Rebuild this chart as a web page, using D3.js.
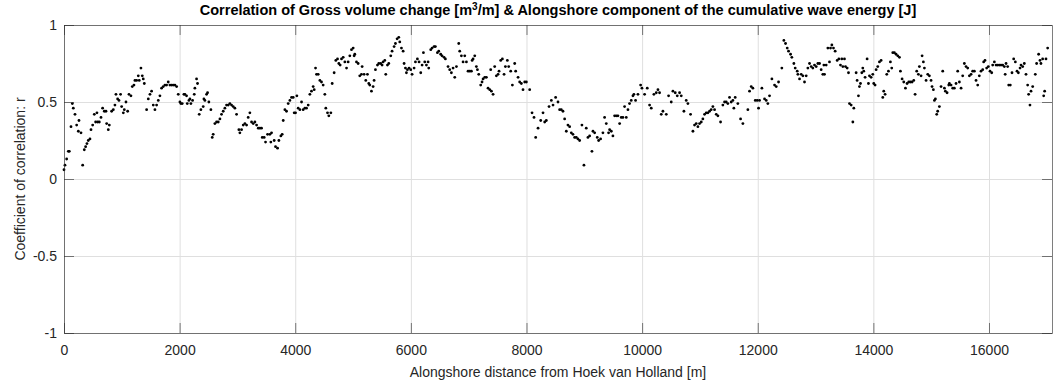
<!DOCTYPE html>
<html>
<head>
<meta charset="utf-8">
<script src="https://cdn.jsdelivr.net/npm/d3@7"></script>
<style>
  html, body { margin: 0; padding: 0; background: #fff; overflow: hidden; }
  text { font-family: "Liberation Sans", Arial, Helvetica, sans-serif; fill: #262626; }
</style>
</head>
<body>
<div id="chart"></div>
<script>
// alongshore distance [m] of each transect
const distance = [
  0, 17, 46, 75, 92, 121, 144, 161, 190, 219, 248, 259, 294, 323, 351, 374, 397, 420, 449, 467,
  496, 524, 547, 570, 582, 611, 640, 668, 697, 726, 738, 766, 784, 824, 853, 881, 899, 928, 951, 979,
  997, 1026, 1043, 1072, 1101, 1124, 1158, 1181, 1210, 1227, 1256, 1285, 1302, 1331, 1354, 1371, 1389, 1429, 1458, 1487,
  1515, 1544,
  1573, 1602, 1631, 1659, 1688, 1717, 1746, 1775, 1803, 1832, 1861, 1890, 1919, 1948, 1976, 2005, 2022, 2045, 2074, 2092,
  2120, 2132, 2161, 2178, 2195, 2224, 2253, 2264, 2293, 2310, 2339, 2368, 2408, 2420, 2437, 2466, 2483, 2506, 2541, 2564,
  2581, 2610, 2639, 2668, 2697, 2725, 2754, 2783, 2812, 2841, 2869, 2898, 2927, 2956, 2985, 3025, 3042, 3071, 3100, 3129,
  3158, 3186, 3215, 3244, 3273,
  3302, 3331, 3360, 3388, 3417, 3429, 3463, 3486, 3521, 3561, 3578, 3590, 3636, 3659, 3694, 3717, 3751, 3774, 3792, 3821,
  3849, 3878, 3907, 3936, 3965, 3982, 4005, 4028, 4051, 4080, 4109, 4137, 4166, 4195, 4224, 4253, 4281, 4310, 4328, 4351,
  4368, 4397, 4426, 4454, 4483, 4512, 4529, 4558, 4581, 4616, 4639, 4673, 4702, 4731, 4754, 4777, 4800, 4829, 4858, 4887,
  4915, 4944, 4973, 5002, 5019,
  5030, 5059, 5088, 5116, 5145, 5157, 5191, 5220, 5249, 5272, 5289, 5318, 5347, 5364, 5387, 5422, 5445, 5479, 5502, 5520,
  5549, 5566, 5595, 5618, 5652, 5675, 5710, 5733, 5762, 5791, 5808, 5837, 5866, 5883, 5906, 5923, 5940, 5969, 5998, 6021,
  6056, 6079, 6113, 6142, 6171, 6194, 6217, 6240, 6269, 6298, 6309, 6344, 6367, 6401, 6424, 6459, 6482, 6516, 6539, 6574,
  6597, 6643, 6672, 6701, 6730,
  6759, 6788, 6828, 6845, 6874, 6903, 6932, 6961, 6989, 7018, 7047, 7060, 7076, 7105, 7133, 7151, 7174, 7208, 7231, 7249,
  7278, 7306, 7335, 7364, 7381, 7393, 7422, 7450, 7479, 7508, 7525, 7554, 7583, 7612, 7635, 7669, 7692, 7727, 7756, 7796,
  7813, 7854, 7882, 7911, 7940, 7969, 7998, 8055, 8096, 8130, 8159, 8200, 8246, 8286, 8315, 8343, 8390, 8430, 8459,
  8504, 8545, 8573, 8602, 8631, 8660, 8689, 8717, 8746, 8775, 8804, 8833, 8862, 8890, 8919, 8959, 8994, 9034, 9063, 9092,
  9132, 9150, 9179, 9224, 9248, 9282, 9322, 9351, 9380, 9420, 9438, 9467, 9495, 9524, 9553, 9582, 9611, 9639, 9668, 9697,
  9726, 9755, 9783, 9812, 9841, 9858, 9887, 9928, 9974, 9997, 10043, 10089, 10129, 10158, 10204,
  10245, 10274, 10302, 10331, 10360, 10418, 10458, 10504, 10533, 10573, 10608, 10648, 10677, 10723, 10763, 10792, 10838, 10879, 10907, 10936,
  10965, 10994, 11023, 11051, 11080, 11109, 11138, 11167, 11195, 11224, 11253, 11282, 11311, 11357, 11397, 11426, 11455, 11483, 11512, 11541,
  11570, 11587, 11610, 11656, 11703, 11743, 11829, 11858, 11887, 11916,
  11957, 11991, 12014, 12031, 12072, 12118, 12147, 12175, 12204, 12245, 12291, 12320, 12360, 12417, 12452, 12481, 12510, 12533, 12568, 12590,
  12625, 12648, 12683, 12694, 12723, 12752, 12781, 12809, 12838, 12867, 12896, 12925, 12953, 12982, 13011, 13040, 13069, 13097, 13126, 13144,
  13155, 13184, 13213, 13241, 13259, 13282, 13310, 13339, 13374, 13403, 13431, 13454, 13472, 13500, 13518, 13547, 13570, 13587, 13616, 13645,
  13662,
  13702, 13719, 13742, 13759, 13777, 13800, 13817, 13834, 13857, 13892, 13915, 13932, 13961, 13990, 14007, 14030, 14048, 14076, 14105, 14134,
  14163, 14180, 14203, 14232, 14261, 14295, 14318, 14336, 14364, 14393, 14422, 14451, 14468, 14497, 14526, 14555, 14583, 14612, 14641, 14670,
  14699, 14722, 14750, 14779, 14796, 14825, 14843, 14865, 14883, 14912, 14941, 14969, 14998, 15015, 15038, 15056, 15073, 15096, 15113, 15142,
  15171, 15200, 15229, 15246, 15275, 15304,
  15315, 15344, 15373, 15401, 15430, 15459, 15488, 15517, 15545, 15574, 15603, 15632, 15661, 15690, 15718, 15747, 15776, 15805, 15833, 15862,
  15891, 15908, 15931, 15960, 15989, 16018, 16047, 16064, 16093, 16122, 16150, 16179, 16208, 16237, 16266, 16280, 16295, 16323, 16341, 16369,
  16398, 16427, 16456, 16485, 16508, 16537, 16554, 16583, 16611, 16640, 16669, 16686, 16709, 16727, 16756, 16801, 16824, 16859, 16882, 16899,
  16928, 16946, 16963, 16986, 17015
];

// correlation coefficient r at each transect
const rValues = [
  .06, .09, .13, .18, .18, .34, .49, .46, .42, .35, .31, .38, .30, .09, .19, .21, .23, .25, .26, .32,
  .35, .42, .37, .43, .37, .37, .40, .46, .44, .44, .36, .32, .35, .44, .45, .48, .55, .52, .51, .55,
  .47, .43, .45, .50, .44, .55, .54, .60, .61, .64, .64, .67, .64, .72, .67, .65, .62, .45, .52, .55,
  .57, .48,
  .45, .48, .51, .54, .59, .60, .61, .61, .63, .61, .61, .61, .61, .60, .55, .50, .49, .49, .55, .55,
  .54, .49, .51, .52, .49, .51, .55, .59, .65, .62, .42, .45, .47, .52, .51, .55, .56, .50, .45, .27,
  .29, .36, .37, .37, .39, .42, .44, .46, .48, .48, .49, .48, .47, .46, .42, .32, .30, .32, .35, .36,
  .35, .40, .43, .37, .36,
  .37, .35, .33, .33, .33, .27, .27, .24, .29, .29, .24, .30, .25, .21, .20, .25, .28, .29, .38, .45,
  .44, .49, .51, .53, .53, .43, .43, .54, .46, .45, .50, .45, .46, .46, .48, .55, .57, .60, .58, .72,
  .68, .68, .64, .63, .61, .55, .46, .43, .41, .43, .62, .69, .77, .78, .75, .74, .78, .79, .76, .72,
  .76, .80, .84, .85, .80,
  .81, .76, .75, .67, .68, .73, .68, .64, .68, .62, .61, .57, .60, .64, .71, .74, .75, .75, .74, .76,
  .77, .68, .74, .75, .80, .83, .86, .88, .91, .92, .89, .85, .83, .75, .72, .69, .71, .72, .71, .68,
  .72, .76, .78, .76, .69, .74, .82, .76, .74, .76, .72, .84, .85, .86, .86, .82, .83, .81, .80, .79,
  .78, .73, .71, .69, .72,
  .66, .73, .88, .83, .80, .76, .80, .76, .70, .70, .70, .77, .78, .80, .73, .71, .68, .61, .63, .65,
  .66, .66, .59, .58, .71, .57, .55, .73, .67, .68, .70, .77, .78, .68, .73, .77, .73, .70, .61, .75,
  .70, .66, .63, .62, .58, .63, .63, .58, .43, .40, .27, .33, .38, .43, .37, .38, .47, .51, .48,
  .53, .50, .45, .45, .44, .39, .31, .35, .34, .30, .29, .27, .27, .26, .25, .35, .09, .33, .27, .28,
  .18, .31, .30, .27, .25, .26, .30, .40, .36, .30, .32, .31, .28, .41, .41, .41, .36, .40, .40, .47,
  .40, .45, .49, .51, .54, .55, .51, .55, .61, .59, .55, .59, .48, .46, .55,
  .56, .58, .56, .42, .44, .42, .54, .50, .57, .56, .54, .56, .54, .44, .51, .49, .42, .31, .35, .36,
  .34, .36, .37, .39, .42, .43, .43, .44, .45, .47, .45, .42, .41, .37, .48, .50, .50, .49, .53, .50,
  .51, .46, .53, .49, .39, .36, .45, .57, .60, .59,
  .51, .51, .46, .51, .59, .52, .51, .49, .54, .65, .61, .60, .63, .72, .90, .88, .85, .83, .81, .79,
  .75, .72, .70, .68, .65, .68, .67, .63, .67, .72, .75, .73, .72, .74, .73, .75, .75, .71, .68, .74,
  .68, .74, .85, .76, .85, .87, .85, .83, .77, .78, .74, .78, .73, .78, .73, .72, .69, .49, .48, .37,
  .46,
  .69, .64, .54, .60, .62, .69, .72, .70, .66, .78, .62, .67, .66, .68, .62, .61, .71, .73, .76, .77,
  .53, .57, .55, .68, .70, .76, .72, .82, .82, .81, .80, .79, .70, .65, .63, .59, .62, .63, .63, .63,
  .64, .55, .70, .68, .73, .67, .80, .76, .72, .64, .68, .67, .64, .60, .58, .51, .52, .42, .44, .47,
  .60, .70, .59, .57, .56, .61,
  .62, .61, .59, .59, .62, .70, .63, .59, .67, .75, .73, .72, .67, .68, .70, .70, .64, .61, .67, .70,
  .71, .76, .77, .72, .73, .70, .69, .74, .76, .74, .74, .74, .74, .74, .73, .68, .75, .73, .61, .61,
  .69, .78, .76, .70, .69, .72, .74, .73, .75, .68, .61, .55, .48, .57, .60, .68, .75, .81, .77, .75,
  .78, .54, .57, .78, .85
];

const xTicks = [0, 2000, 4000, 6000, 8000, 10000, 12000, 14000, 16000];
const yTicks = [-1, -0.5, 0, 0.5, 1];
const xMax = 17090;

const config = {
  width: 1054,
  height: 387,
  margin: {top: 25, right: 2, bottom: 54, left: 64},
  tickLength: 10
};

const innerWidth = config.width - config.margin.left - config.margin.right;
const innerHeight = config.height - config.margin.top - config.margin.bottom;

const points = distance.map((d, i) => ({x: d, r: rValues[i]}));

const xScale = d3.scaleLinear().domain([0, xMax]).range([0, innerWidth]);
const yScale = d3.scaleLinear().domain([-1, 1]).range([innerHeight, 0]);

const svg = d3.select('#chart').append('svg')
  .attr('width', config.width)
  .attr('height', config.height)
  .style('display', 'block');

const chart = svg.append('g')
  .attr('transform', `translate(${config.margin.left},${config.margin.top})`);

// grid lines (no labels)
const dropText = g => {
  g.select('.domain').remove();
  g.selectAll('.tick text').remove();
};

chart.append('g')
  .attr('class', 'grid')
  .call(d3.axisBottom(xScale).tickValues(xTicks).tickSize(innerHeight))
  .call(dropText)
  .selectAll('line').attr('stroke', '#dfdfdf');

chart.append('g')
  .attr('class', 'grid')
  .call(d3.axisRight(yScale).tickValues(yTicks).tickSize(innerWidth))
  .call(dropText)
  .selectAll('line').attr('stroke', '#dfdfdf');

// scatter points
chart.append('g')
  .selectAll('circle')
  .data(points)
  .join('circle')
  .attr('cx', d => xScale(d.x))
  .attr('cy', d => yScale(d.r))
  .attr('r', 1.4)
  .attr('fill', '#000');

// axes with inward ticks (box on)
const axisColor = '#262626';
const styleAxis = g => {
  g.select('.domain').attr('stroke', axisColor).attr('stroke-width', 0.6);
  g.selectAll('.tick line').attr('stroke', axisColor).attr('stroke-width', 0.6);
  g.selectAll('.tick text').attr('fill', '#262626').style('font-size', '14px')
    .style('font-family', '"Liberation Sans", Arial, sans-serif');
};

chart.append('g')
  .attr('transform', `translate(0,${innerHeight})`)
  .call(d3.axisBottom(xScale).tickValues(xTicks).tickSizeInner(-config.tickLength).tickSizeOuter(0).tickPadding(12).tickFormat(d3.format('d')))
  .call(styleAxis);

chart.append('g')
  .call(d3.axisTop(xScale).tickValues(xTicks).tickSizeInner(-config.tickLength).tickSizeOuter(0))
  .call(g => g.selectAll('.tick text').remove())
  .call(styleAxis);

chart.append('g')
  .call(d3.axisLeft(yScale).tickValues(yTicks).tickSizeInner(-config.tickLength).tickSizeOuter(0).tickPadding(7).tickFormat(d => d))
  .call(styleAxis);

chart.append('g')
  .attr('transform', `translate(${innerWidth},0)`)
  .call(d3.axisRight(yScale).tickValues(yTicks).tickSizeInner(-config.tickLength).tickSizeOuter(0))
  .call(g => g.selectAll('.tick text').remove())
  .call(styleAxis);

// axis labels
svg.append('text')
  .attr('x', config.margin.left + innerWidth / 2)
  .attr('y', 377)
  .attr('text-anchor', 'middle')
  .style('font-size', '14px')
  .text('Alongshore distance from Hoek van Holland [m]');

svg.append('text')
  .attr('transform', `translate(25,${config.margin.top + innerHeight / 2}) rotate(-90)`)
  .attr('text-anchor', 'middle')
  .style('font-size', '14px')
  .text('Coefficient of correlation: r');

// title with superscript
const title = svg.append('text')
  .attr('x', config.margin.left + innerWidth / 2)
  .attr('y', 15)
  .attr('text-anchor', 'middle')
  .style('font-size', '14.5px')
  .style('font-weight', 'bold')
  .style('fill', '#000');
title.append('tspan').text('Correlation of Gross volume change [m');
title.append('tspan').attr('dy', -5).style('font-size', '10px').text('3');
title.append('tspan').attr('dy', 5).text('/m] & Alongshore component of the cumulative wave energy [J]');
</script>
</body>
</html>
